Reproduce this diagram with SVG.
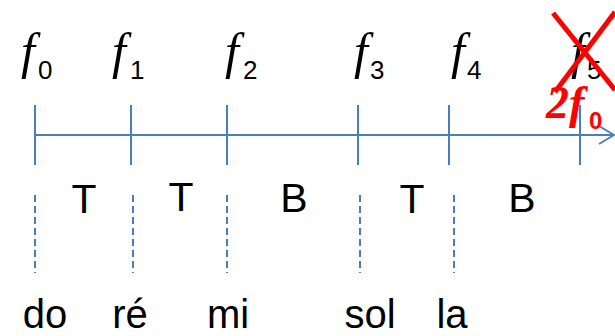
<svg xmlns="http://www.w3.org/2000/svg" width="615" height="336" viewBox="0 0 615 336">
<defs>
<style>
.ax{stroke:#4A7EBB;stroke-width:2;fill:none}
.dash{stroke:#4A7EBB;stroke-width:2;stroke-dasharray:7 4;fill:none}
.fv{font-family:"Liberation Serif",serif;font-style:italic;font-size:50px;fill:#000}
.sub{font-family:"Liberation Sans",sans-serif;font-size:26px;fill:#000}
.lbl{font-family:"Liberation Sans",sans-serif;font-size:41px;fill:#000;text-anchor:middle}
.note{font-family:"Liberation Sans",sans-serif;font-size:40px;fill:#000;text-anchor:middle}
.red{fill:#FF0000}
.cross{stroke:#FF0000;stroke-width:5;fill:none}
</style>
<marker id="arr" markerWidth="20" markerHeight="24" refX="16" refY="10" orient="auto" markerUnits="userSpaceOnUse">
<path d="M1,1 L16,10 L1,19" fill="none" stroke="#4A7EBB" stroke-width="2"/>
</marker>
</defs>
<g id="connectors">
<line class="ax" x1="35" y1="135" x2="614" y2="135" marker-end="url(#arr)"/>
<line class="ax" x1="35" y1="105" x2="35" y2="165"/>
<line class="ax" x1="131" y1="105" x2="131" y2="165"/>
<line class="ax" x1="227" y1="105" x2="227" y2="165"/>
<line class="ax" x1="358" y1="105" x2="358" y2="165"/>
<line class="ax" x1="449" y1="105" x2="449" y2="165"/>
<line class="ax" x1="580" y1="105" x2="580" y2="165"/>
<line class="dash" x1="35" y1="195" x2="35" y2="273"/>
<line class="dash" x1="133" y1="195" x2="133" y2="273"/>
<line class="dash" x1="227" y1="195" x2="227" y2="273"/>
<line class="dash" x1="360" y1="195" x2="360" y2="273"/>
<line class="dash" x1="454" y1="195" x2="454" y2="273"/>
</g>
<g id="f0"><text class="fv" x="21" y="68">f</text><text class="sub" x="38" y="79">0</text></g>
<g id="f1"><text class="fv" x="112" y="68">f</text><text class="sub" x="130" y="79">1</text></g>
<g id="f2"><text class="fv" x="225" y="68">f</text><text class="sub" x="243" y="79">2</text></g>
<g id="f3"><text class="fv" x="354" y="68">f</text><text class="sub" x="370" y="79">3</text></g>
<g id="f4"><text class="fv" x="451" y="68">f</text><text class="sub" x="467" y="79">4</text></g>
<g id="f5"><text class="fv" x="571" y="68">f</text><text class="sub" x="587" y="79">5</text></g>
<g id="cross">
<line class="cross" x1="553" y1="13" x2="615" y2="90"/>
<line class="cross" x1="615" y1="12" x2="555" y2="92"/>
</g>
<g id="twof0">
<text x="546" y="118" font-family="Liberation Serif, serif" font-style="italic" font-weight="bold" font-size="46" class="red">2f</text>
<text x="589" y="129" font-family="Liberation Sans, sans-serif" font-weight="bold" font-size="24" class="red">0</text>
</g>
<g id="intervals">
<text class="lbl" x="84" y="213">T</text>
<text class="lbl" x="181" y="211">T</text>
<text class="lbl" x="294" y="212">B</text>
<text class="lbl" x="412" y="213">T</text>
<text class="lbl" x="522" y="212">B</text>
</g>
<g id="notes">
<text class="note" x="45" y="328">do</text>
<text class="note" x="130" y="328">ré</text>
<text class="note" x="228" y="328">mi</text>
<text class="note" x="370" y="328">sol</text>
<text class="note" x="452" y="328">la</text>
</g>
</svg>
